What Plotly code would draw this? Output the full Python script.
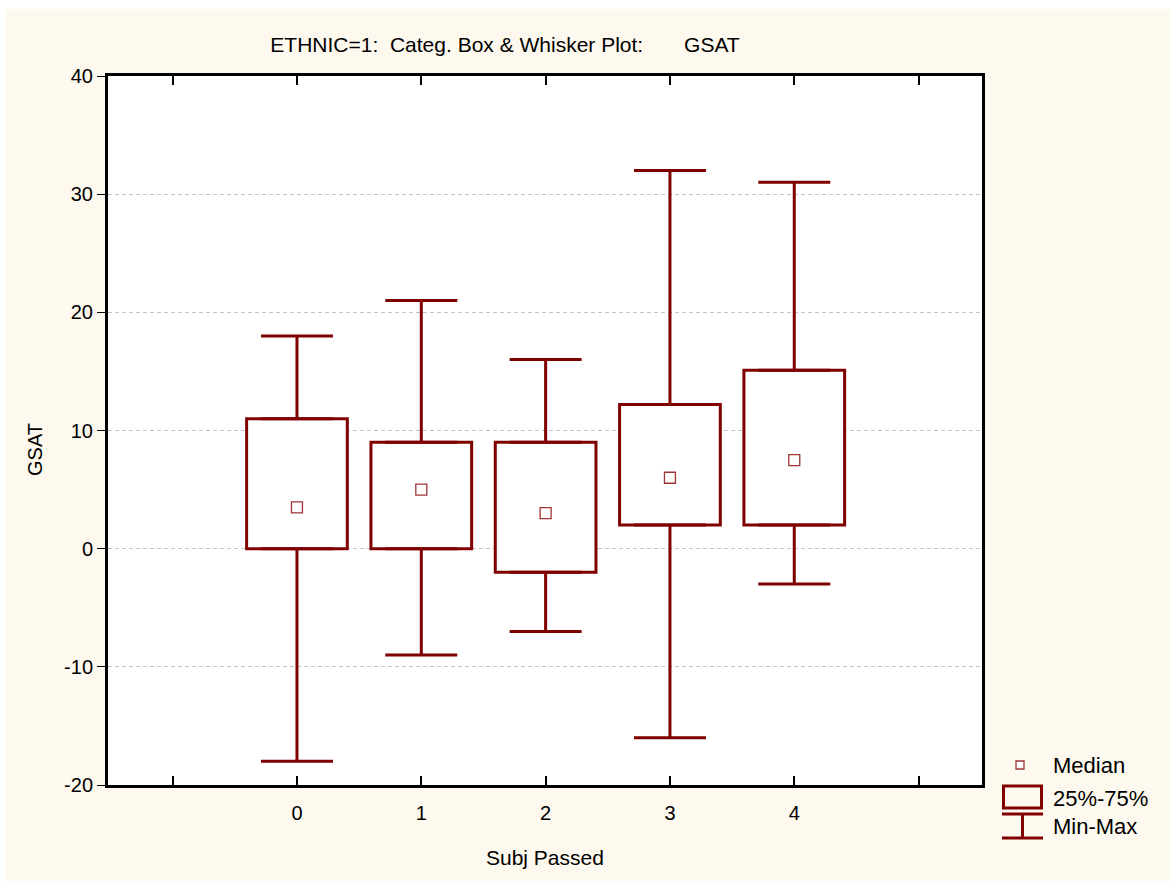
import plotly.graph_objects as go

# ---- data ----
categories = [0, 1, 2, 3, 4]
mins = [-18, -9, -7, -16, -3]
q1s = [0, 0, -2, 2, 2]
medians = [3.5, 5, 3, 6, 7.5]
q3s = [11, 9, 9, 12.2, 15.1]
maxs = [18, 21, 16, 32, 31]
x_tickvals = [-1, 0, 1, 2, 3, 4, 5]
x_ticktext = ["", "0", "1", "2", "3", "4", ""]
y_tickvals = [-20, -10, 0, 10, 20, 30, 40]
y_ticktext = ["-20", "-10", "0", "10", "20", "30", "40"]

# ---- layout constants ----
W, H = 1172, 881
L, R, T, B = 108, 982, 76, 785
DARK = "#800000"
CREAM = "#FEF9EE"
FONT = "Liberation Sans Narrow, Liberation Sans, Arial, sans-serif"


def px(xp):
    return (xp - L) / (R - L)


def py(yp):
    return (B - yp) / (B - T)


fig = go.Figure()

# boxes (25%-75%)
fig.add_trace(go.Bar(
    x=categories,
    y=[b - a for a, b in zip(q1s, q3s)],
    base=q1s,
    width=0.81,
    marker=dict(color="white", line=dict(color=DARK, width=3)),
    showlegend=False, hoverinfo="skip",
))

# upper whiskers
fig.add_trace(go.Scatter(
    x=categories, y=q3s, mode="markers",
    marker=dict(size=1, color="rgba(0,0,0,0)"),
    error_y=dict(type="data", symmetric=False,
                 array=[m - q for m, q in zip(maxs, q3s)],
                 arrayminus=[0] * len(categories),
                 color=DARK, thickness=3, width=36),
    showlegend=False, hoverinfo="skip",
))
# lower whiskers
fig.add_trace(go.Scatter(
    x=categories, y=q1s, mode="markers",
    marker=dict(size=1, color="rgba(0,0,0,0)"),
    error_y=dict(type="data", symmetric=False,
                 array=[0] * len(categories),
                 arrayminus=[q - m for q, m in zip(q1s, mins)],
                 color=DARK, thickness=3, width=36),
    showlegend=False, hoverinfo="skip",
))
# medians
fig.add_trace(go.Scatter(
    x=categories, y=medians, mode="markers",
    marker=dict(symbol="square", size=11, color="white",
                line=dict(color="#9E3434", width=1.3)),
    showlegend=False, hoverinfo="skip",
))

shapes = []
# cream background with thin white strips at top / left
shapes.append(dict(type="rect", xref="paper", yref="paper", layer="below",
                   x0=px(5), x1=px(1170), y0=py(881), y1=py(9),
                   fillcolor=CREAM, line=dict(width=0)))
shapes.append(dict(type="rect", xref="paper", yref="paper", layer="below",
                   x0=0, x1=1, y0=0, y1=1,
                   fillcolor="white", line=dict(width=0)))

# legend symbols
shapes.append(dict(type="rect", xref="paper", yref="paper",
                   x0=px(1016), x1=px(1024), y0=py(769), y1=py(761),
                   fillcolor="white", line=dict(color="#9E3434", width=1.3)))
shapes.append(dict(type="rect", xref="paper", yref="paper",
                   x0=px(1003.5), x1=px(1041.5), y0=py(808), y1=py(786),
                   fillcolor="rgba(0,0,0,0)", line=dict(color=DARK, width=3)))
for yy in (814, 838):
    shapes.append(dict(type="line", xref="paper", yref="paper",
                       x0=px(1002), x1=px(1043), y0=py(yy), y1=py(yy),
                       line=dict(color=DARK, width=3)))
shapes.append(dict(type="line", xref="paper", yref="paper",
                   x0=px(1022.5), x1=px(1022.5), y0=py(814), y1=py(838),
                   line=dict(color=DARK, width=3)))

annotations = []
leg_font = dict(family=FONT, size=22, color="black")
for txt, yy in (("Median", 765), ("25%-75%", 798), ("Min-Max", 827)):
    annotations.append(dict(text=txt, xref="paper", yref="paper",
                            x=px(1051), y=py(yy), xanchor="left", yanchor="middle",
                            showarrow=False, font=leg_font))
# axis titles
annotations.append(dict(text="GSAT", xref="paper", yref="paper",
                        x=px(35), y=py(450), xanchor="center", yanchor="middle",
                        textangle=-90, showarrow=False,
                        font=dict(family=FONT, size=20, color="black")))
annotations.append(dict(text="Subj Passed", xref="paper", yref="paper",
                        x=px(545), y=py(857), xanchor="center", yanchor="middle",
                        showarrow=False,
                        font=dict(family=FONT, size=21, color="black")))

fig.update_layout(
    width=W, height=H,
    margin=dict(l=L, r=W - R, t=T, b=H - B, pad=0),
    paper_bgcolor="white",
    plot_bgcolor="white",
    font=dict(family=FONT, size=18, color="black"),
    title=dict(text="ETHNIC=1:  Categ. Box &amp; Whisker Plot:       GSAT",
               xref="paper", x=px(505), xanchor="center",
               yref="container", y=1 - 45 / H, yanchor="middle",
               font=dict(family=FONT, size=21, color="black")),
    showlegend=False,
    shapes=shapes,
    annotations=annotations,
    barmode="overlay",
)

fig.update_xaxes(
    range=[-1.52, 5.51],
    tickmode="array", tickvals=x_tickvals, ticktext=x_ticktext,
    ticks="inside", ticklen=9, tickwidth=2, tickcolor="black",
    showline=True, linecolor="black", linewidth=3, mirror="allticks",
    showgrid=False, zeroline=False,
    ticklabelstandoff=8,
    tickfont=dict(family=FONT, size=20, color="black"),
)
fig.update_yaxes(
    range=[-20, 40],
    tickmode="array", tickvals=y_tickvals, ticktext=y_ticktext,
    ticks="outside", ticklen=8, tickwidth=1, tickcolor="black",
    showline=True, linecolor="black", linewidth=3, mirror=True,
    showgrid=True, gridcolor="#C4C4C4", gridwidth=1, griddash="4px,3px",
    zeroline=False,
    tickfont=dict(family=FONT, size=20, color="black"),
)

fig.write_html("out.html")
